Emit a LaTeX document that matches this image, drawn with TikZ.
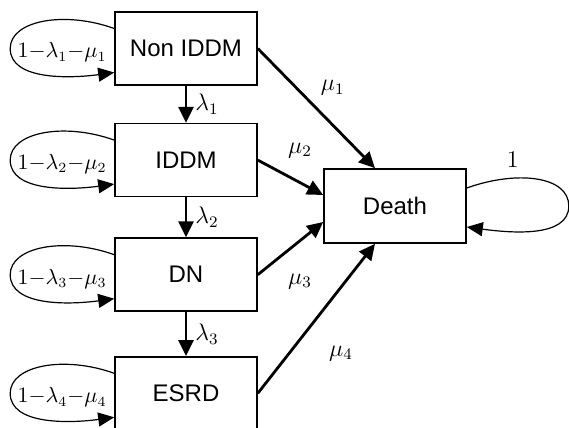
\documentclass[tikz,border=0pt]{standalone}
\usepackage{fontspec}
\newfontfamily\boxfont{Liberation Sans}
\usetikzlibrary{arrows.meta,positioning}

\tikzset{
  state/.style={draw, line width=0.8pt, minimum width=71pt, minimum height=36.5pt,
    font=\boxfont\fontsize{12}{14}\selectfont},
  flow/.style={-{Triangle[length=8pt,width=7.5pt]}, line width=1.4pt},
  stay/.style={-{Triangle[length=8pt,width=7pt]}, line width=0.6pt},
  rate/.style={font=\fontsize{11.5}{13}\selectfont, inner sep=1pt}
}

\begin{document}
\begin{tikzpicture}[x=0.5pt, y=-0.5pt]
    \useasboundingbox (0,0) rectangle (569,428);

%states
    \node[state] (nid) at (186,48.5) {Non IDDM};
    \node[state, below=18.5pt of nid] (iddm) {IDDM};
    \node[state, below=20pt of iddm] (dn) {DN};
    \node[state, below=22pt of dn] (esrd) {ESRD};
    \node[state, minimum height=37pt] (death) at (395,206) {Death};

%progression
    \draw[flow] (nid) -- node[rate, right=3pt] (l1) {$\lambda_1$} (iddm);
    \draw[flow] (iddm) -- node[rate, right=3pt] (l2) {$\lambda_2$} (dn);
    \draw[flow] (dn) -- node[rate, right=3pt] (l3) {$\lambda_3$} (esrd);

%staying in a state
    \foreach \s/\i in {nid/1,iddm/2,dn/3,esrd/4}{
      \draw[stay] ([yshift=10pt]\s.west) .. controls +(-25pt,9pt) and +(0pt,14pt) .. ([xshift=-52pt]\s.west)
        .. controls +(0pt,-16pt) and +(-22pt,-3pt) .. ([yshift=-12pt]\s.west);
      \node[rate, font=\fontsize{10.5}{12}\selectfont] (s\i) at ([xshift=-26pt,yshift=-2pt]\s.west) {$1{-}\lambda_\i{-}\mu_\i$};
    }
    \draw[stay] ([yshift=9pt]death.east) .. controls +(25pt,9pt) and +(0pt,15pt) .. ([xshift=51pt]death.east)
      .. controls +(0pt,-16pt) and +(22pt,-3pt) .. ([yshift=-10.5pt]death.east);
    \node[rate] (s5) at ([xshift=23pt,yshift=23pt]death.east) {$1$};

%dying
    \draw[flow] (nid.east) -- node[rate, pos=0.4, xshift=14pt, yshift=4.3pt] (m1) {$\mu_1$} ([xshift=-10pt]death.north);
    \draw[flow] (iddm.east) -- node[rate, xshift=4.75pt, yshift=13.5pt] (m2) {$\mu_2$} ([yshift=5.5pt]death.west);
    \draw[flow] (dn.east) -- node[rate, xshift=4.75pt, yshift=-16.5pt] (m3) {$\mu_3$} ([yshift=-8pt]death.west);
    \draw[flow] (esrd.east) -- node[rate, pos=0.3, xshift=24pt, yshift=-2.5pt] (m4) {$\mu_4$} ([xshift=-10pt]death.south);

\end{tikzpicture}
\end{document}
